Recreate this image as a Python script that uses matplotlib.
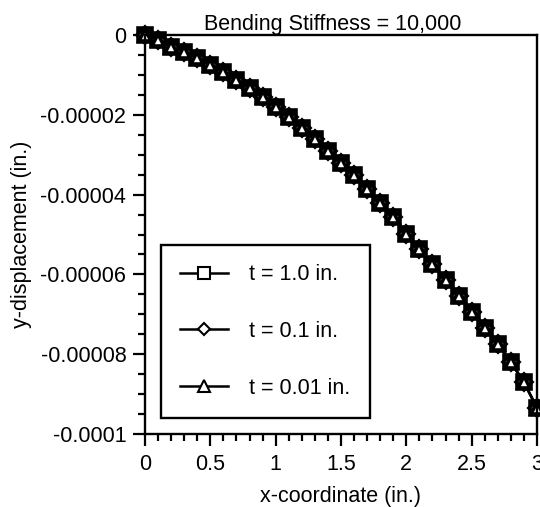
import matplotlib
matplotlib.use("Agg")
import matplotlib.pyplot as plt
from matplotlib.ticker import FixedLocator, MultipleLocator
from matplotlib.lines import Line2D

plt.rcParams['font.family'] = ['Liberation Sans', 'DejaVu Sans']

# ---- data (y in 1e-5 in.) ----
x_coord = [0.0, 0.1, 0.2, 0.3, 0.4, 0.5, 0.6, 0.7, 0.8, 0.9, 1.0,
           1.1, 1.2, 1.3, 1.4, 1.5, 1.6, 1.7, 1.8, 1.9, 2.0,
           2.1, 2.2, 2.3, 2.4, 2.5, 2.6, 2.7, 2.8, 2.9, 3.0]
y_t1 = [0.0, -0.13, -0.30, -0.42, -0.58, -0.74, -0.92, -1.14, -1.33, -1.55, -1.80,
        -2.06, -2.33, -2.60, -2.90, -3.20, -3.52, -3.85, -4.20, -4.57, -4.98,
        -5.36, -5.75, -6.14, -6.53, -6.94, -7.34, -7.74, -8.20, -8.70, -9.35]
y_t01 = [0.0, -0.13, -0.30, -0.42, -0.58, -0.74, -0.92, -1.14, -1.33, -1.55, -1.80,
         -2.06, -2.33, -2.60, -2.90, -3.20, -3.52, -3.85, -4.20, -4.57, -4.98,
         -5.36, -5.75, -6.14, -6.53, -6.94, -7.34, -7.74, -8.20, -8.70, -9.35]
y_t001 = [0.0, -0.13, -0.30, -0.42, -0.58, -0.74, -0.92, -1.14, -1.33, -1.55, -1.80,
          -2.06, -2.33, -2.60, -2.90, -3.20, -3.52, -3.85, -4.20, -4.57, -4.98,
          -5.36, -5.75, -6.14, -6.53, -6.94, -7.34, -7.74, -8.20, -8.70, -9.35]
series_labels = ["t = 1.0 in.", "t = 0.1 in.", "t = 0.01 in."]

x_ticks = [0, 0.5, 1, 1.5, 2, 2.5, 3]
x_tick_labels = ["0", "0.5", "1", "1.5", "2", "2.5", "3"]
y_ticks = [0, -0.00002, -0.00004, -0.00006, -0.00008, -0.0001]
y_tick_labels = ["0", "-0.00002", "-0.00004", "-0.00006", "-0.00008", "-0.0001"]

title = "Bending Stiffness = 10,000"
x_label = "x-coordinate (in.)"
y_label = "y-displacement (in.)"

scale = 1e-5
FS = 15.5

fig = plt.figure(figsize=(5.4, 5.07), dpi=100)
ax = fig.add_axes([145/540, 1 - 434/507, 392/540, 399/507])

markers = ['s', 'D', '^']
plot_sizes = [9.5, 8, 9]
for ys, mk, ms in zip([y_t1, y_t01, y_t001], markers, plot_sizes):
    ax.plot(x_coord, [v * scale for v in ys], color='black', lw=1.8,
            marker=mk, markersize=ms,
            markerfacecolor='white', markeredgecolor='black', markeredgewidth=2.6,
            clip_on=False)

ax.set_xlim(0, 3)
ax.set_ylim(-0.0001, 0)
ax.xaxis.set_major_locator(FixedLocator(x_ticks))
ax.set_xticklabels(x_tick_labels)
ax.xaxis.set_minor_locator(MultipleLocator(0.1))
ax.yaxis.set_major_locator(FixedLocator(y_ticks))
ax.set_yticklabels(y_tick_labels)
ax.yaxis.set_minor_locator(MultipleLocator(0.000005))

ax.tick_params(which='both', direction='out', top=False, right=False,
               width=1.6, labelsize=FS, colors='black')
ax.tick_params(which='major', length=8.5)
ax.tick_params(axis='x', which='major', pad=6)
ax.tick_params(axis='y', which='major', pad=5)
ax.tick_params(which='minor', length=5)
for s in ax.spines.values():
    s.set_linewidth(1.7)
    s.set_color('black')

ax.set_title(title, fontsize=FS, pad=2, x=0.48)
ax.set_xlabel(x_label, fontsize=FS, labelpad=8)
ax.set_ylabel(y_label, fontsize=FS, labelpad=6)

legend_sizes = [8, 6, 8]
handles = [Line2D([], [], color='black', lw=1.8, marker=mk, markersize=ms,
                  markerfacecolor='white', markeredgecolor='black', markeredgewidth=1.5)
           for mk, ms in zip(markers, legend_sizes)]
leg = ax.legend(handles, series_labels, loc='lower left', bbox_to_anchor=(0.041, 0.040),
                borderaxespad=0, fontsize=FS, frameon=True, fancybox=False,
                edgecolor='black', handlelength=2.2, handletextpad=1.0,
                labelspacing=1.66, borderpad=0.9, framealpha=1)
leg.get_frame().set_linewidth(1.7)

fig.savefig("out.png", dpi=100)
